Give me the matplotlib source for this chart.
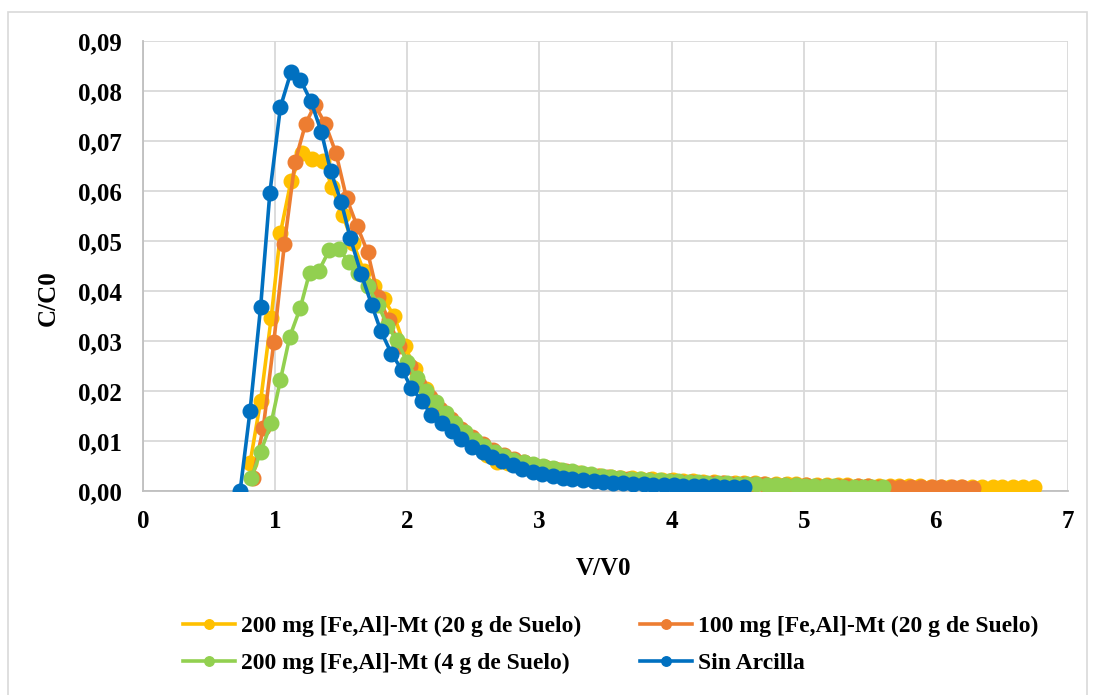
import matplotlib
matplotlib.use("Agg")
import matplotlib.pyplot as plt
from matplotlib.ticker import FuncFormatter, MultipleLocator
from matplotlib.patches import Rectangle

# ---------------- data ----------------
labels = ["200 mg [Fe,Al]-Mt (20 g de Suelo)",
          "100 mg [Fe,Al]-Mt (20 g de Suelo)",
          "200 mg [Fe,Al]-Mt (4 g de Suelo)",
          "Sin Arcilla"]
colors = ["#FFC000", "#ED7D31", "#92D050", "#0070C0"]

x_yellow = [0.81, 0.89, 0.97, 1.04, 1.12, 1.20, 1.28, 1.36, 1.43, 1.51,
            1.59, 1.67, 1.75, 1.82, 1.90, 1.98, 2.06, 2.14, 2.21, 2.29,
            2.37, 2.45, 2.53, 2.60, 2.68, 2.76, 2.84, 2.92, 2.99, 3.07,
            3.15, 3.23, 3.31, 3.38, 3.46, 3.54, 3.62, 3.70, 3.77, 3.85,
            3.93, 4.01, 4.09, 4.16, 4.24, 4.32, 4.40, 4.48, 4.55, 4.63,
            4.71, 4.79, 4.87, 4.94, 5.02, 5.10, 5.18, 5.26, 5.33, 5.41,
            5.49, 5.57, 5.65, 5.72, 5.80, 5.88, 5.96, 6.04, 6.11, 6.19,
            6.27, 6.35, 6.43, 6.50, 6.58, 6.66, 6.74]
y_yellow = [0.0056, 0.0180, 0.0346, 0.0516, 0.0620, 0.0676, 0.0664, 0.0660, 0.0608, 0.0552,
            0.0496, 0.0440, 0.0410, 0.0385, 0.0350, 0.0290, 0.0245, 0.0205, 0.0175, 0.0150,
            0.0128, 0.0108, 0.0090, 0.0072, 0.0058, 0.0056, 0.0055, 0.0052, 0.0049, 0.0045,
            0.0042, 0.0039, 0.0036, 0.0033, 0.0031, 0.0029, 0.0027, 0.0026, 0.0025, 0.0024,
            0.0023, 0.0022, 0.0021, 0.0020, 0.0019, 0.0018, 0.0017, 0.0017, 0.0016, 0.0016,
            0.0015, 0.0015, 0.0014, 0.0014, 0.0013, 0.0013, 0.0012, 0.0012, 0.0012, 0.0011,
            0.0011, 0.0011, 0.0010, 0.0010, 0.0010, 0.0010, 0.0009, 0.0009, 0.0009, 0.0009,
            0.0009, 0.0008, 0.0008, 0.0008, 0.0008, 0.0008, 0.0008]

x_orange = [0.83, 0.91, 0.99, 1.07, 1.15, 1.23, 1.30, 1.38, 1.46, 1.54,
            1.62, 1.70, 1.78, 1.86, 1.94, 2.02, 2.09, 2.17, 2.25, 2.33,
            2.41, 2.49, 2.57, 2.65, 2.73, 2.81, 2.88, 2.96, 3.04, 3.12,
            3.20, 3.28, 3.36, 3.44, 3.52, 3.60, 3.67, 3.75, 3.83, 3.91,
            3.99, 4.07, 4.15, 4.23, 4.31, 4.39, 4.46, 4.54, 4.62, 4.70,
            4.78, 4.86, 4.94, 5.02, 5.10, 5.18, 5.25, 5.33, 5.41, 5.49,
            5.57, 5.65, 5.73, 5.81, 5.89, 5.97, 6.04, 6.12, 6.20, 6.28]
y_orange = [0.0026, 0.0126, 0.0298, 0.0494, 0.0658, 0.0734, 0.0772, 0.0734, 0.0676, 0.0586,
            0.0530, 0.0478, 0.0388, 0.0342, 0.0290, 0.0250, 0.0215, 0.0188, 0.0165, 0.0145,
            0.0125, 0.0108, 0.0094, 0.0082, 0.0072, 0.0064, 0.0058, 0.0053, 0.0048, 0.0044,
            0.0040, 0.0036, 0.0033, 0.0030, 0.0028, 0.0026, 0.0024, 0.0023, 0.0022, 0.0021,
            0.0020, 0.0019, 0.0018, 0.0017, 0.0016, 0.0016, 0.0015, 0.0015, 0.0014, 0.0014,
            0.0013, 0.0013, 0.0012, 0.0012, 0.0011, 0.0011, 0.0011, 0.0010, 0.0010, 0.0010,
            0.0009, 0.0009, 0.0009, 0.0009, 0.0008, 0.0008, 0.0008, 0.0008, 0.0008, 0.0007]

x_green = [0.82, 0.89, 0.97, 1.04, 1.11, 1.19, 1.26, 1.33, 1.41, 1.48,
           1.56, 1.63, 1.70, 1.78, 1.85, 1.92, 2.00, 2.07, 2.14, 2.22,
           2.29, 2.36, 2.44, 2.51, 2.58, 2.66, 2.73, 2.80, 2.88, 2.95,
           3.03, 3.10, 3.17, 3.25, 3.32, 3.39, 3.47, 3.54, 3.61, 3.69,
           3.76, 3.83, 3.91, 3.98, 4.05, 4.13, 4.20, 4.27, 4.35, 4.42,
           4.50, 4.57, 4.64, 4.72, 4.79, 4.86, 4.94, 5.01, 5.08, 5.16,
           5.23, 5.30, 5.38, 5.45, 5.52, 5.60]
y_green = [0.0026, 0.0078, 0.0136, 0.0222, 0.0308, 0.0366, 0.0436, 0.0440, 0.0482, 0.0484,
           0.0458, 0.0436, 0.0410, 0.0372, 0.0330, 0.0302, 0.0258, 0.0226, 0.0200, 0.0178,
           0.0156, 0.0136, 0.0118, 0.0102, 0.0090, 0.0078, 0.0070, 0.0063, 0.0058, 0.0054,
           0.0051, 0.0047, 0.0043, 0.0040, 0.0037, 0.0034, 0.0031, 0.0029, 0.0027, 0.0025,
           0.0024, 0.0023, 0.0022, 0.0021, 0.0020, 0.0019, 0.0018, 0.0017, 0.0017, 0.0016,
           0.0015, 0.0015, 0.0014, 0.0013, 0.0013, 0.0012, 0.0012, 0.0011, 0.0011, 0.0010,
           0.0010, 0.0009, 0.0009, 0.0009, 0.0008, 0.0008]

x_blue = [0.735, 0.81, 0.89, 0.96, 1.04, 1.12, 1.19, 1.27, 1.35, 1.42,
          1.50, 1.57, 1.65, 1.73, 1.80, 1.88, 1.96, 2.03, 2.11, 2.18,
          2.26, 2.34, 2.41, 2.49, 2.57, 2.64, 2.72, 2.80, 2.87, 2.95,
          3.02, 3.10, 3.18, 3.25, 3.33, 3.41, 3.48, 3.56, 3.63, 3.71,
          3.79, 3.86, 3.94, 4.02, 4.09, 4.17, 4.24, 4.32, 4.40, 4.47,
          4.55]
y_blue = [0.0000, 0.0160, 0.0368, 0.0596, 0.0768, 0.0838, 0.0823, 0.0780, 0.0718, 0.0640,
          0.0578, 0.0505, 0.0435, 0.0373, 0.0320, 0.0275, 0.0242, 0.0207, 0.0180, 0.0153,
          0.0137, 0.0120, 0.0104, 0.0088, 0.0078, 0.0068, 0.0060, 0.0052, 0.0045, 0.0039,
          0.0034, 0.0030, 0.0027, 0.0024, 0.0022, 0.0020, 0.0018, 0.0017, 0.0016, 0.0015,
          0.0014, 0.0013, 0.0013, 0.0012, 0.0011, 0.0011, 0.0010, 0.0010, 0.0009, 0.0009,
          0.0008]

series = [(x_yellow, y_yellow), (x_orange, y_orange), (x_green, y_green), (x_blue, y_blue)]
for (xs, ys), lab in zip(series, labels):
    assert len(xs) == len(ys), f"{lab}: {len(xs)} vs {len(ys)}"

# ---------------- plot ----------------
plt.rcParams['font.family'] = ['Liberation Serif', 'DejaVu Serif']
plt.rcParams['font.weight'] = 'bold'

fig = plt.figure(figsize=(10.94, 6.95), dpi=100)
ax = fig.add_axes([143/1094, 1 - 491/695, (1068-143)/1094, (491-41)/695])

handles = []
for (xs, ys), lab, c in zip(series, labels, colors):
    h, = ax.plot(xs, ys, color=c, lw=2.6, marker='o', ms=10.5, mec=c, mfc=c,
                 label=lab, solid_joinstyle='round', zorder=3)
    handles.append(h)

ax.set_xlim(0, 7)
ax.set_ylim(0, 0.09)
ax.xaxis.set_major_locator(MultipleLocator(1))
ax.yaxis.set_major_locator(MultipleLocator(0.01))
ax.yaxis.set_major_formatter(FuncFormatter(lambda v, p: f"{v:.2f}".replace('.', ',')))
ax.grid(True, color='#D9D9D9', lw=1.3, zorder=0)
ax.set_axisbelow(True)
for s in ['top', 'right']:
    ax.spines[s].set_visible(False)
for s in ['left', 'bottom']:
    ax.spines[s].set_color('#BFBFBF')
    ax.spines[s].set_linewidth(1.3)
ax.tick_params(axis='y', length=0, labelsize=18, pad=15)
ax.tick_params(axis='x', length=0, labelsize=18, pad=14)
for t in ax.get_xticklabels() + ax.get_yticklabels():
    t.set_fontweight('bold')

ax.set_xlabel("V/V0", fontsize=18, fontweight='bold')
ax.xaxis.set_label_coords((604 - 143) / 925, -(557 - 491) / 450)
ax.set_ylabel("C/C0", fontsize=18, fontweight='bold')
ax.yaxis.set_label_coords((60 - 143) / 925, (491 - 298) / 450)

# row-major legend order: yellow, orange / green, blue
order = [0, 2, 1, 3]
leg = fig.legend([handles[i] for i in order], [labels[i] for i in order],
                 loc='center', bbox_to_anchor=(611/1094, 1 - 645/695), ncol=2,
                 frameon=False, handlelength=2.2, markerscale=0.65,
                 columnspacing=2.5, labelspacing=0.65, handletextpad=0.25,
                 prop={'weight': 'bold', 'size': 17})

fig.patches.append(Rectangle((8/1094, -0.01), (1087-8)/1094, 1 - 12/695 + 0.01,
                             transform=fig.transFigure, fill=False,
                             edgecolor='#D9D9D9', lw=1.2))

fig.savefig("out.png", dpi=100)
